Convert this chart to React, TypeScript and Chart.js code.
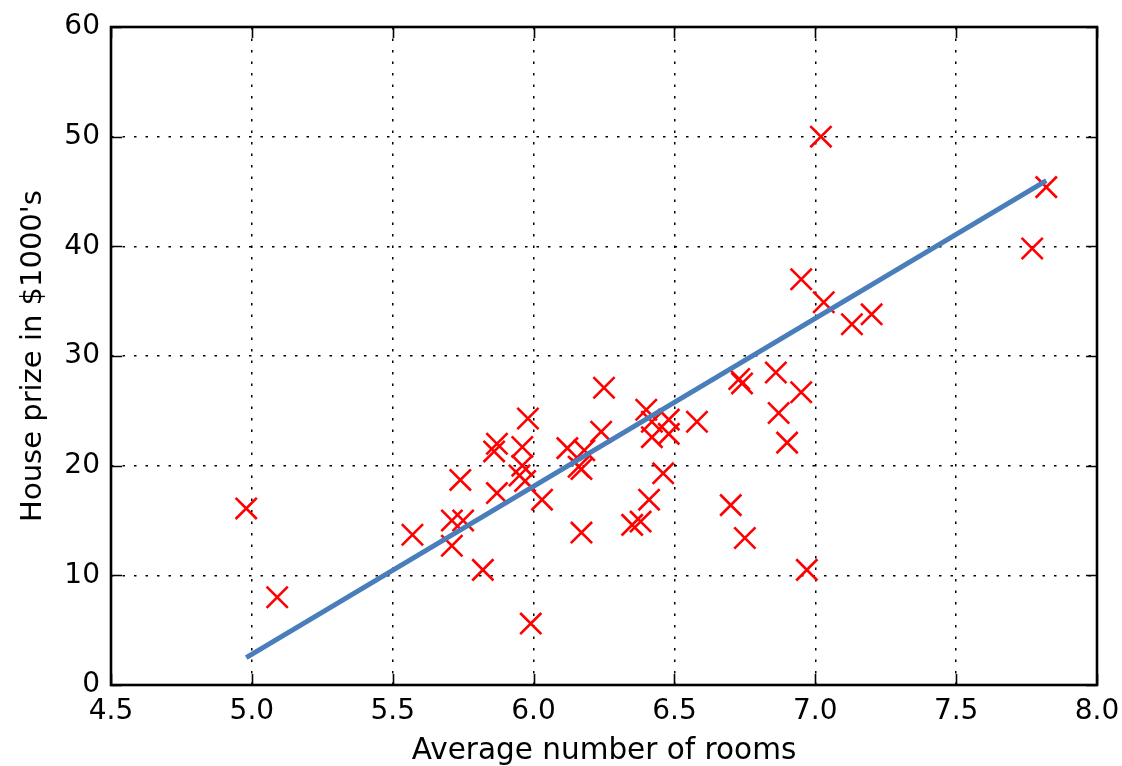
import React, { useEffect, useRef } from "react";
import { Chart, registerables } from "chart.js";

Chart.register(...registerables);

// Average number of rooms (x) and house price in $1000's (y)
const rooms = [
  4.98, 5.09, 5.57, 5.71, 5.75, 5.71, 5.74, 5.82, 5.87, 5.86,
  5.87, 5.98, 5.96, 5.96, 5.95, 5.97, 6.03, 5.99, 6.12, 6.16,
  6.17, 6.18, 6.17, 6.24, 6.25, 6.40, 6.42, 6.42, 6.48, 6.48,
  6.46, 6.41, 6.35, 6.38, 6.58, 6.73, 6.74, 6.86, 6.95, 6.87,
  6.90, 6.70, 6.75, 6.97, 6.95, 7.03, 7.13, 7.20, 7.02, 7.82,
  7.77,
];
const prices = [
  16.1, 8.0, 13.7, 15.0, 15.0, 12.7, 18.7, 10.5, 17.5, 21.3,
  22.0, 24.3, 21.7, 20.0, 19.1, 18.6, 16.9, 5.6, 21.6, 19.9,
  19.7, 21.4, 13.9, 23.1, 27.1, 25.1, 24.0, 22.6, 24.2, 22.9,
  19.3, 16.9, 14.6, 14.9, 24.0, 27.9, 27.5, 28.5, 26.7, 24.8,
  22.1, 16.4, 13.4, 10.5, 37.0, 34.9, 32.9, 33.8, 50.0, 45.4,
  39.8,
];

// fitted regression line end points
const fitRooms = [4.98, 7.82];
const fitPrices = [2.5, 46.0];

// axis ranges
const xMin = 4.5;
const xMax = 8.0;
const xStep = 0.5;
const yMin = 0;
const yMax = 60;
const yStep = 10;

const framePlugin = {
  id: "frameTicks",
  afterDraw(chart: any) {
    const { ctx, chartArea: a, scales } = chart;
    const tl = 11;
    ctx.save();
    ctx.strokeStyle = "#000";
    ctx.lineWidth = 1.6;
    ctx.beginPath();
    scales.x.ticks.forEach((t: any) => {
      const px = Math.round(scales.x.getPixelForValue(t.value)) + 0.5;
      ctx.moveTo(px, a.bottom);
      ctx.lineTo(px, a.bottom - tl);
      ctx.moveTo(px, a.top);
      ctx.lineTo(px, a.top + tl);
    });
    scales.y.ticks.forEach((t: any) => {
      const py = Math.round(scales.y.getPixelForValue(t.value)) + 0.5;
      ctx.moveTo(a.left, py);
      ctx.lineTo(a.left + tl, py);
      ctx.moveTo(a.right, py);
      ctx.lineTo(a.right - tl, py);
    });
    ctx.stroke();
    ctx.lineWidth = 2.6;
    ctx.strokeRect(a.left, a.top, a.right - a.left, a.bottom - a.top);
    ctx.restore();
  },
};

export default function App() {
  const ref = useRef<HTMLCanvasElement | null>(null);

  useEffect(() => {
    if (!ref.current) return;
    Chart.defaults.font.family = "'DejaVu Sans', sans-serif";
    const points = rooms.map((x, i) => ({ x, y: prices[i] }));
    const fit = fitRooms.map((x, i) => ({ x, y: fitPrices[i] }));
    const chart = new Chart(ref.current, {
      type: "scatter",
      data: {
        datasets: [
          {
            label: "fit",
            data: fit,
            showLine: true,
            borderColor: "#4a7ebb",
            borderWidth: 5,
            pointRadius: 0,
            pointHoverRadius: 0,
            fill: false,
          },
          {
            label: "data",
            data: points,
            pointStyle: "crossRot",
            pointRadius: 15,
            pointHoverRadius: 15,
            borderColor: "#ff0000",
            backgroundColor: "#ff0000",
            borderWidth: 2.6,
            showLine: false,
          },
        ],
      },
      options: {
        animation: false,
        responsive: false,
        devicePixelRatio: 1,
        layout: { padding: { top: 27, right: 25, left: 0, bottom: 0 } },
        plugins: {
          legend: { display: false },
          tooltip: { enabled: false },
        },
        scales: {
          x: {
            type: "linear",
            min: xMin,
            max: xMax,
            afterFit: (s: any) => {
              s.height = 81;
              s.paddingLeft = 0;
              s.paddingRight = 0;
            },
            ticks: {
              stepSize: xStep,
              color: "#000",
              padding: 10,
              font: { size: 28 },
              callback: (v: any) => Number(v).toFixed(1),
            },
            grid: {
              color: "#000",
              lineWidth: 1.5,
              drawTicks: false,
            },
            border: { display: false, dash: [2.5, 9] },
            title: {
              display: true,
              text: "Average number of rooms",
              color: "#000",
              font: { size: 29.5 },
              padding: { top: 0, bottom: -3 },
            },
          },
          y: {
            type: "linear",
            min: yMin,
            max: yMax,
            afterFit: (s: any) => {
              s.width = 111;
              s.paddingTop = 0;
              s.paddingBottom = 0;
            },
            ticks: {
              stepSize: yStep,
              color: "#000",
              padding: 11,
              font: { size: 28 },
            },
            grid: {
              color: "#000",
              lineWidth: 1.5,
              drawTicks: false,
            },
            border: { display: false, dash: [2.5, 9] },
            title: {
              display: true,
              text: "House prize in $1000's",
              color: "#000",
              font: { size: 29 },
              padding: { top: 16, bottom: 0 },
            },
          },
        },
      },
      plugins: [framePlugin],
    });
    return () => chart.destroy();
  }, []);

  return (
    <div style={{ position: "absolute", left: 0, top: 0, width: 1122, height: 766, background: "#fff" }}>
      <canvas ref={ref} width={1122} height={766} style={{ display: "block" }} />
    </div>
  );
}
